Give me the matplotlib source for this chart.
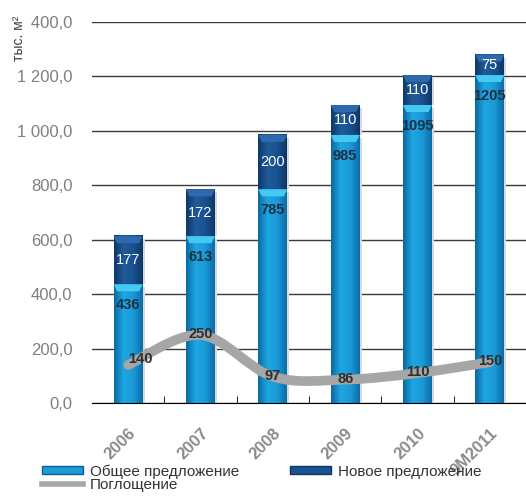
import numpy as np
import matplotlib.pyplot as plt
from matplotlib.path import Path
from matplotlib.patches import PathPatch, Polygon, Patch
from matplotlib.lines import Line2D
from matplotlib.colors import LinearSegmentedColormap

plt.rcParams['font.family'] = ['Liberation Sans', 'DejaVu Sans']

years = ['2006', '2007', '2008', '2009', '2010', '9M2011']
total_supply = [436, 613, 785, 985, 1095, 1205]
new_supply = [177, 172, 200, 110, 110, 75]
absorption = [140, 250, 97, 86, 110, 150]
y_ticks = [0, 200, 400, 600, 800, 1000, 1200, 1400]
y_labels = ['0,0', '200,0', '400,0', '600,0', '800,0', '1 000,0', '1 200,0', '1 400,0']

W, H = 526, 498
fig = plt.figure(figsize=(W / 100, H / 100), dpi=100)
ax = fig.add_axes([92 / W, 1 - 403 / H, 1 - 92 / W, (403 - 22) / H])

ymax = 1400
px_per_unit = (403 - 22) / ymax
bar_w = 0.4

light_cmap = LinearSegmentedColormap.from_list('light', ['#0a6aa3', '#1fa6e2', '#1b9ad8', '#0b6da8'])
dark_cmap = LinearSegmentedColormap.from_list('dark', ['#0e386a', '#1f5b99', '#1a5190', '#0d3666'])
grad = np.linspace(0, 1, 64).reshape(1, -1)


def shaded_bar(x, bottom, height, cmap, bevel_color):
    x0, x1 = x - bar_w / 2, x + bar_w / 2
    top = bottom + height
    # soft shadow to the right of the segment
    ax.add_patch(Polygon([(x0 + 0.03, bottom), (x1 + 0.03, bottom), (x1 + 0.03, top - 3 / px_per_unit),
                          (x0 + 0.03, top - 3 / px_per_unit)], closed=True,
                         facecolor='#d9d9d9', edgecolor='none', zorder=1.9))
    ax.imshow(grad, extent=(x0, x1, bottom, top), aspect='auto', cmap=cmap, zorder=2)
    # bevel highlight at the top of the segment
    bh = 7 / px_per_unit
    inset = bar_w * 0.12
    ax.add_patch(Polygon([(x0, top), (x1, top), (x1 - inset, top - bh), (x0 + inset, top - bh)],
                         closed=True, facecolor=bevel_color, edgecolor='none', zorder=3))


for i, (t, n) in enumerate(zip(total_supply, new_supply)):
    shaded_bar(i, 0, t, light_cmap, '#45c9f2')
    shaded_bar(i, t, n, dark_cmap, '#2d69ad')
    ax.annotate(str(t), (i, t), xytext=(0, -21), textcoords='offset pixels', ha='center', va='center',
                fontsize=10.5, fontweight='bold', color='#1d2f42', zorder=5)
    ax.text(i, t + n / 2, str(n), ha='center', va='center', fontsize=10.5, color='white', zorder=5)

# smooth absorption curve (Catmull-Rom converted to cubic Bezier segments)
pts = np.column_stack([np.arange(len(absorption)), absorption]).astype(float)
ext = np.vstack([pts[0], pts, pts[-1]])
verts = [tuple(pts[0])]
codes = [Path.MOVETO]
for k in range(1, len(ext) - 2):
    p0, p1, p2, p3 = ext[k - 1], ext[k], ext[k + 1], ext[k + 2]
    c1 = p1 + (p2 - p0) / 6
    c2 = p2 - (p3 - p1) / 6
    verts += [tuple(c1), tuple(c2), tuple(p2)]
    codes += [Path.CURVE4] * 3
ax.add_patch(PathPatch(Path(verts, codes), fill=False, edgecolor='#a6a6a6', lw=7,
                       capstyle='round', joinstyle='round', zorder=4))

for i, v in enumerate(absorption):
    dx = 12 if i == 0 else 0
    dy = 6 if i == 0 else 1
    ax.annotate(str(v), (i, v), xytext=(dx, dy), textcoords='offset pixels', ha='center', va='center',
                fontsize=10.5, fontweight='bold', color='#2e2e2e', zorder=5)

ax.set_xlim(-0.5, 5.445)
ax.set_ylim(0, ymax)

ax.set_yticks(y_ticks)
ax.set_yticklabels(y_labels, fontsize=12, color='#7f7f7f')
ax.tick_params(axis='y', length=0, pad=14)
ax.yaxis.grid(True, color='#3a3a3a', lw=1)
ax.set_axisbelow(True)

ax.set_xticks(range(len(years)))
ax.set_xticklabels(years, rotation=45, ha='right', rotation_mode='anchor',
                   fontsize=12, fontweight='bold', color='#8a8a8a')
ax.tick_params(axis='x', which='major', length=0, pad=16)
ax.set_xticks(np.arange(len(years)) + 0.5, minor=True)
ax.tick_params(axis='x', which='minor', direction='in', length=5, color='black')

for s in ['top', 'right', 'left']:
    ax.spines[s].set_visible(False)
ax.spines['bottom'].set_color('black')

fig.text(19 / W, 1 - 38 / H, 'тыс. м²', rotation=90, ha='center', va='center', fontsize=10,
         color='#404040', bbox=dict(facecolor='white', edgecolor='none', pad=1))

h_total = Patch(facecolor='#1b9ad8', edgecolor='#0b5f94', label='Общее предложение')
h_new = Patch(facecolor='#1a5190', edgecolor='#0d3666', label='Новое предложение')
h_abs = Line2D([], [], color='#a6a6a6', lw=4, label='Поглощение')
fig.legend(handles=[h_total, h_abs, h_new], ncol=2, loc='upper left', bbox_to_anchor=(36 / W, 1 - 458 / H),
           frameon=False, fontsize=11, handlelength=2.7, handleheight=0.45, handletextpad=0.45,
           columnspacing=3.3, labelspacing=-0.05, labelcolor='#333333', borderaxespad=0)

fig.savefig('out.png', dpi=100)
